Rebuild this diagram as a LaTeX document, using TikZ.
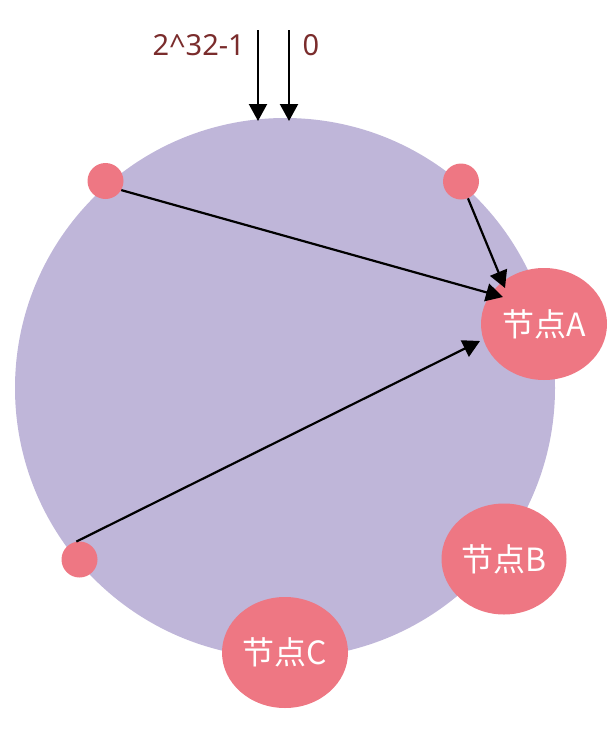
\documentclass[tikz,border=0pt]{standalone}
\usepackage{fontspec}
\newfontfamily\cjk{Noto Sans CJK SC}
\setmainfont{Noto Sans}
\usetikzlibrary{arrows.meta,shapes.geometric}
\definecolor{ring}{HTML}{BFB6D9}
\definecolor{pinkn}{HTML}{EE7783}
\definecolor{lbl}{HTML}{7A2C2C}
\tikzset{
  hashnode/.style={ellipse, fill=pinkn, inner sep=0pt, text=white,
    font=\cjk\fontsize{32}{36}\selectfont},
  dot/.style={circle, fill=pinkn, minimum size=36pt, inner sep=0pt},
  arr/.style={line width=2.2pt, draw=black, -{Triangle[length=17pt,width=18pt]}},
  toplbl/.style={text=lbl, font=\fontsize{29}{32}\selectfont, inner sep=0pt}
}
\begin{document}
\begin{tikzpicture}[x=1pt,y=-1pt]
\useasboundingbox (0,0) rectangle (614,736);
\fill[ring] (285,388) circle[radius=270pt];
% dots
\node[dot] (d1) at (105.5,181) {};
\node[dot] (d2) at (461,181.5) {};
\node[dot] (d3) at (79.5,559.5) {};
% nodes
\node[hashnode, minimum width=126pt, minimum height=112pt] (A) at (544,324) {节点A};
\node[hashnode, minimum width=125pt, minimum height=111pt] (B) at (504,559) {节点B};
\node[hashnode, minimum width=126pt, minimum height=111pt] (C) at (285,652.5) {节点C};
% arrow targets
\coordinate (tA1) at (503,297);
\coordinate (tA2) at (505,288);
\coordinate (tA3) at (480,341);
\draw[arr] (d1.-30) -- (tA1);
\draw[arr] (d2) -- (tA2);
\draw[arr] (d3.100) -- (tA3);
% top labels and arrows
\node[toplbl, anchor=east] (lmax) at (245,45) {2\textasciicircum 32-1};
\node[toplbl] (lzero) at (311,45) {0};
\coordinate (s1) at (258,30);
\coordinate (e1) at (258,121);
\coordinate (s2) at (289,30);
\coordinate (e2) at (289,121);
\draw[arr] (s1) -- (e1);
\draw[arr] (s2) -- (e2);
\end{tikzpicture}
\end{document}
